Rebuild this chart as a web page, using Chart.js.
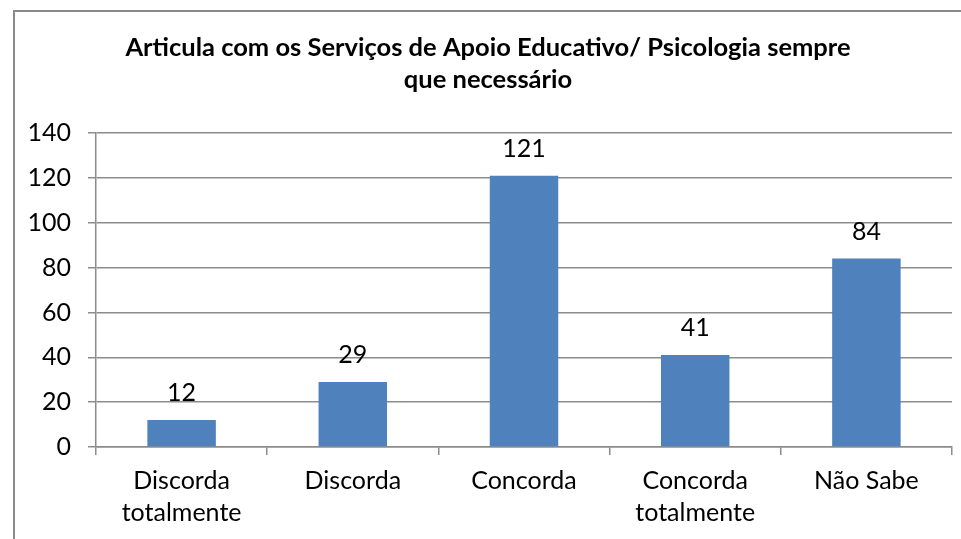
<!DOCTYPE html>
<html>
<head>
<meta charset="utf-8">
<script src="https://cdn.jsdelivr.net/npm/chart.js@4/dist/chart.umd.min.js"></script>
<style>
  html, body { margin: 0; padding: 0; background: #ffffff; }
  #wrap { position: relative; width: 961px; height: 539px; }
  canvas { display: block; }
</style>
</head>
<body>
<div id="wrap"><canvas id="c" width="961" height="539"></canvas></div>
<script>
const chartTitle = ['Articula com os Serviços de Apoio Educativo/ Psicologia sempre', 'que necessário'];
const categories = [['Discorda', 'totalmente'], 'Discorda', 'Concorda', ['Concorda', 'totalmente'], 'Não Sabe'];
const values = [12, 29, 121, 41, 84];
const yTicks = [0, 20, 40, 60, 80, 100, 120, 140];

const FONT = 'Lato';
const GRID = '#8c8c8c';

const frame = {
  id: 'frame',
  beforeDraw(chart) {
    const ctx = chart.ctx;
    ctx.save();
    ctx.fillStyle = '#ffffff';
    ctx.fillRect(0, 0, chart.width, chart.height);
    ctx.strokeStyle = '#8a8a8a';
    ctx.lineWidth = 2;
    ctx.beginPath();
    ctx.moveTo(14, chart.height);
    ctx.lineTo(14, 11);
    ctx.lineTo(chart.width, 11);
    ctx.stroke();
    ctx.restore();
  }
};

const valueLabels = {
  id: 'valueLabels',
  afterDatasetsDraw(chart) {
    const ctx = chart.ctx;
    const meta = chart.getDatasetMeta(0);
    ctx.save();
    ctx.font = '25px ' + FONT;
    ctx.fillStyle = '#000000';
    ctx.textAlign = 'center';
    ctx.textBaseline = 'middle';
    meta.data.forEach((bar, i) => {
      ctx.fillText(String(values[i]), bar.x, bar.y - 27);
    });
    ctx.restore();
  }
};

new Chart(document.getElementById('c'), {
  type: 'bar',
  data: {
    labels: categories,
    datasets: [{
      data: values,
      backgroundColor: '#4f81bd',
      borderWidth: 0,
      barPercentage: 0.4,
      categoryPercentage: 1.0
    }]
  },
  options: {
    responsive: false,
    animation: false,
    devicePixelRatio: 1,
    layout: { padding: { left: 24, right: 9, top: 0, bottom: 0 } },
    plugins: {
      legend: { display: false },
      tooltip: { enabled: false },
      title: {
        display: true,
        text: chartTitle,
        color: '#000000',
        font: { family: FONT, size: 25.5, weight: 'bold', lineHeight: 1.24 },
        padding: { top: 32.2, bottom: 37.6 }
      }
    },
    scales: {
      x: {
        grid: {
          display: true,
          drawOnChartArea: false,
          drawTicks: true,
          tickLength: 8,
          color: GRID,
          lineWidth: 1.5,
          offset: true
        },
        border: { display: true, color: GRID, width: 1.5 },
        ticks: {
          color: '#000000',
          font: { family: FONT, size: 25, lineHeight: 1.28 },
          padding: 10,
          maxRotation: 0,
          autoSkip: false
        },
        afterFit(scale) { scale.height = 92; }
      },
      y: {
        min: 0,
        max: 140,
        afterBuildTicks(scale) { scale.ticks = yTicks.map(v => ({ value: v })); },
        grid: {
          color: GRID,
          lineWidth: 1.5,
          tickLength: 8,
          drawTicks: true
        },
        border: { display: true, color: GRID, width: 1.5 },
        ticks: {
          color: '#000000',
          font: { family: FONT, size: 25 },
          padding: 17
        },
        afterFit(scale) { scale.width = 72; }
      }
    }
  },
  plugins: [frame, valueLabels]
});
</script>
</body>
</html>
